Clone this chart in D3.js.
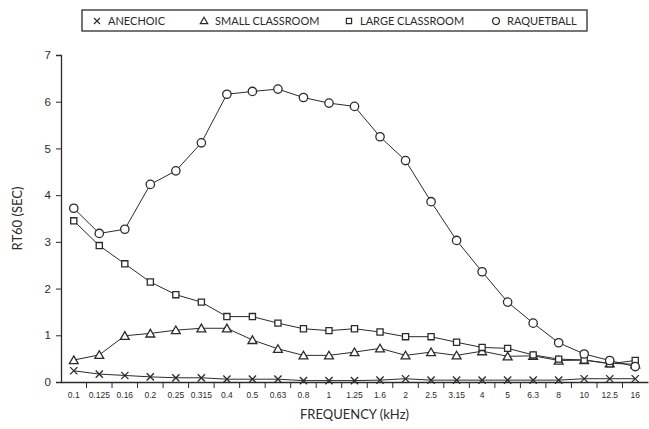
<!DOCTYPE html>
<html>
<head>
<meta charset="utf-8">
<script src="https://cdn.jsdelivr.net/npm/d3@7"></script>
<style>
  body { margin: 0; background: #fff; }
  svg { font-family: Lato, "DejaVu Sans", sans-serif; }
</style>
</head>
<body>
<svg width="649" height="429"></svg>
<script>
const svg = d3.select('svg');

// frequency bands (kHz)
const frequencies = ['0.1', '0.125', '0.16', '0.2', '0.25', '0.315', '0.4', '0.5', '0.63', '0.8', '1',
  '1.25', '1.6', '2', '2.5', '3.15', '4', '5', '6.3', '8', '10', '12.5', '16'];

// RT60 values (sec)
const anechoic = [0.24, 0.17, 0.14, 0.11, 0.09, 0.09, 0.06, 0.06, 0.06, 0.03, 0.03,
  0.03, 0.04, 0.07, 0.04, 0.04, 0.04, 0.04, 0.04, 0.04, 0.07, 0.07, 0.07];
const smallClassroom = [0.47, 0.58, 0.99, 1.04, 1.11, 1.15, 1.15, 0.90, 0.71, 0.57, 0.57,
  0.64, 0.72, 0.57, 0.64, 0.57, 0.66, 0.55, 0.56, 0.46, 0.47, 0.40, 0.38];
const largeClassroom = [3.45, 2.92, 2.53, 2.14, 1.87, 1.71, 1.40, 1.40, 1.26, 1.14, 1.10,
  1.14, 1.07, 0.97, 0.97, 0.85, 0.74, 0.72, 0.58, 0.49, 0.47, 0.39, 0.46];
const raquetball = [3.72, 3.18, 3.27, 4.23, 4.52, 5.12, 6.16, 6.22, 6.27, 6.09, 5.97,
  5.90, 5.25, 4.74, 3.86, 3.03, 2.36, 1.71, 1.26, 0.84, 0.60, 0.46, 0.33];

const yTicks = [0, 1, 2, 3, 4, 5, 6, 7];

const series = [
  { name: 'ANECHOIC', values: anechoic, symbol: d3.symbolX, size: 36 },
  { name: 'SMALL CLASSROOM', values: smallClassroom, symbol: d3.symbolTriangle, size: 34 },
  { name: 'LARGE CLASSROOM', values: largeClassroom, symbol: d3.symbolSquare, size: 38 },
  { name: 'RAQUETBALL', values: raquetball, symbol: d3.symbolCircle, size: 55 }
];

const ink = '#2b2b2b';
const plotLeft = 61, plotRight = 648, plotTop = 55, plotBottom = 382;

const x = d3.scaleBand().domain(frequencies).range([plotLeft, plotRight]);
const y = d3.scaleLinear().domain([0, 7]).range([plotBottom, plotTop]);

// y axis
const yAxis = svg.append('g')
  .attr('transform', `translate(${plotLeft},0)`)
  .call(d3.axisLeft(y).tickValues(yTicks).tickFormat(d3.format('d')).tickSize(5).tickPadding(5));
yAxis.select('.domain').attr('stroke', ink).attr('stroke-width', 1.3);
yAxis.selectAll('.tick line').attr('stroke', ink);
yAxis.selectAll('text').attr('font-size', 11.5).attr('fill', ink);

// x axis, ticks sit between the bands
const xAxis = svg.append('g')
  .attr('transform', `translate(0,${plotBottom})`)
  .call(d3.axisBottom(x).tickSize(0).tickPadding(10));
xAxis.select('.domain').attr('stroke', ink).attr('stroke-width', 1.3);
xAxis.selectAll('text').attr('font-size', 8.5).attr('fill', ink);
xAxis.selectAll('.sep')
  .data(frequencies.slice(1))
  .enter()
  .append('line')
  .attr('x1', d => x(d)).attr('x2', d => x(d))
  .attr('y1', 0).attr('y2', 6)
  .attr('stroke', ink);

// axis titles
svg.append('text')
  .attr('x', (plotLeft + plotRight) / 2).attr('y', 419)
  .attr('text-anchor', 'middle')
  .attr('font-size', 13).attr('fill', ink)
  .text('FREQUENCY (kHz)');
svg.append('text')
  .attr('transform', `translate(22,${(plotTop + plotBottom) / 2}) rotate(-90)`)
  .attr('text-anchor', 'middle')
  .attr('font-size', 13).attr('fill', ink)
  .text('RT60 (SEC)');

// lines and markers
const line = d3.line()
  .x((d, i) => x(frequencies[i]) + x.bandwidth() / 2)
  .y(d => y(d));

series.forEach(s => {
  svg.append('path')
    .attr('d', line(s.values))
    .attr('fill', 'none')
    .attr('stroke', ink)
    .attr('stroke-width', 1);
});

series.forEach(s => {
  const shape = d3.symbol().type(s.symbol).size(s.size);
  svg.append('g').selectAll('path')
    .data(s.values)
    .enter()
    .append('path')
    .attr('d', shape)
    .attr('transform', (d, i) => {
      const dy = s.symbol === d3.symbolTriangle ? 1 : 0;
      return `translate(${x(frequencies[i]) + x.bandwidth() / 2},${y(d) + dy})`;
    })
    .attr('fill', s.symbol === d3.symbolX ? 'none' : '#fff')
    .attr('stroke', ink)
    .attr('stroke-width', 1.3);
});

// legend
const legend = svg.append('g');
legend.append('rect')
  .attr('x', 82).attr('y', 10)
  .attr('width', 505).attr('height', 21)
  .attr('fill', '#fff')
  .attr('stroke', ink)
  .attr('stroke-width', 1.3);

const legendX = [97, 204, 349, 496];
series.forEach((s, i) => {
  legend.append('path')
    .attr('d', d3.symbol().type(s.symbol).size(s.size * 0.7)())
    .attr('transform', `translate(${legendX[i]},${s.symbol === d3.symbolTriangle ? 21.5 : 21})`)
    .attr('fill', s.symbol === d3.symbolX ? 'none' : '#fff')
    .attr('stroke', ink)
    .attr('stroke-width', 1.2);
  legend.append('text')
    .attr('x', legendX[i] + 11).attr('y', 25)
    .attr('font-size', 11).attr('fill', ink)
    .text(s.name);
});
</script>
</body>
</html>
